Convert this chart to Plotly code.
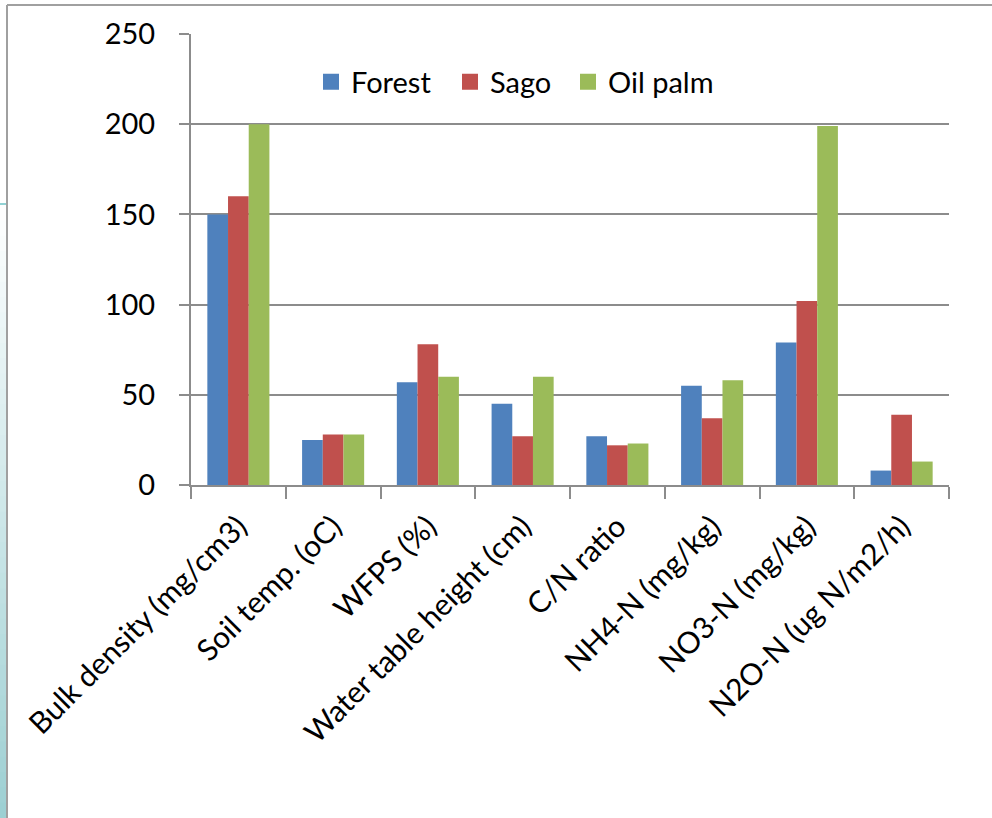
import plotly.graph_objects as go

# Soil / emission parameters compared across three land uses
categories = [
    "Bulk density (mg/cm3)",
    "Soil temp. (oC)",
    "WFPS (%)",
    "Water table height (cm)",
    "C/N ratio",
    "NH4-N (mg/kg)",
    "NO3-N (mg/kg)",
    "N2O-N (ug N/m2/h)",
]
forest = [150, 25, 57, 45, 27, 55, 79, 8]
sago = [160, 28, 78, 27, 22, 37, 102, 39]
oil_palm = [200, 28, 60, 60, 23, 58, 199, 13]

y_ticks = [0, 50, 100, 150, 200, 250]

series = [
    ("Forest", forest, "#4F81BD"),
    ("Sago", sago, "#C0504D"),
    ("Oil palm", oil_palm, "#9BBB59"),
]

FONT = "Lato, 'Open Sans', sans-serif"
W, H = 992, 818
L, R, T, B = 191, 43, 34, 333
PW, PH = W - L - R, H - T - B


def px_x(px):
    return (px - L) / PW


def px_y(py):
    return (H - B - py) / PH


# one legend box per series so the entries sit at their own spots
legend_ids = ["legend", "legend2", "legend3"]
legend_left = [311, 450, 568]

fig = go.Figure()
for (name, vals, color), lid in zip(series, legend_ids):
    fig.add_trace(go.Bar(
        x=categories, y=vals, name=name, legendgroup=name, showlegend=False,
        marker=dict(color=color, line=dict(width=0)),
    ))
    # square swatch for the legend
    fig.add_trace(go.Scatter(
        x=[None], y=[None], mode="markers", name=name, legendgroup=name,
        legend=lid, marker=dict(symbol="square", size=21, color=color),
    ))

shapes = []
frame = "#A0A0A0"
# outer frame (top and left edges)
shapes.append(dict(type="line", xref="paper", yref="paper",
                   x0=px_x(7), x1=px_x(W + 5), y0=px_y(5), y1=px_y(5),
                   line=dict(color=frame, width=2)))
shapes.append(dict(type="line", xref="paper", yref="paper",
                   x0=px_x(7), x1=px_x(7), y0=px_y(5), y1=px_y(H + 5),
                   line=dict(color=frame, width=2)))
# teal accent on the left edge
shapes.append(dict(type="line", xref="paper", yref="paper",
                   x0=px_x(0), x1=px_x(6), y0=px_y(204), y1=px_y(204),
                   line=dict(color="#6CC3C6", width=1.5)))
steps = 40
top, bot = 205, H
c0 = (255, 255, 255)
c1 = (156, 207, 210)
for i in range(steps):
    t = (i + 0.5) / steps
    col = tuple(int(round(c0[k] + (c1[k] - c0[k]) * t)) for k in range(3))
    ya = top + (bot - top) * i / steps
    yb = top + (bot - top) * (i + 1) / steps
    shapes.append(dict(type="rect", xref="paper", yref="paper",
                       x0=px_x(0), x1=px_x(6), y0=px_y(ya), y1=px_y(yb + 1),
                       fillcolor="rgb(%d,%d,%d)" % col, line=dict(width=0),
                       layer="below"))

legend_style = dict(orientation="h", yanchor="middle", xanchor="left",
                    font=dict(family=FONT, size=29, color="black"),
                    bgcolor="rgba(0,0,0,0)", itemclick=False)
legends = {lid: dict(legend_style, x=px_x(lx), y=px_y(82))
           for lid, lx in zip(legend_ids, legend_left)}

fig.update_layout(
    width=W, height=H,
    margin=dict(l=L, r=R, t=T, b=B, pad=0),
    paper_bgcolor="white", plot_bgcolor="white",
    barmode="group", bargap=0.345, bargroupgap=0,
    font=dict(family=FONT, size=29, color="black"),
    showlegend=True,
    shapes=shapes,
    **legends,
)
fig.update_xaxes(
    type="category", tickangle=-45, tickson="boundaries",
    ticks="outside", ticklen=12, tickwidth=2, tickcolor="#8C8C8C",
    showline=True, linecolor="#8C8C8C", linewidth=2,
    showgrid=False, ticklabelstandoff=10,
    tickfont=dict(family=FONT, size=30, color="black"),
)
fig.update_yaxes(
    range=[0, 250], tickvals=y_ticks, ticktext=[str(v) for v in y_ticks],
    ticks="outside", ticklen=10, tickwidth=2, tickcolor="#8C8C8C",
    showline=True, linecolor="#8C8C8C", linewidth=2,
    showgrid=True, gridcolor="#8C8C8C", gridwidth=2, zeroline=False,
    ticklabelstandoff=18,
    tickfont=dict(family=FONT, size=29, color="black"),
)

fig.write_html("out.html")
